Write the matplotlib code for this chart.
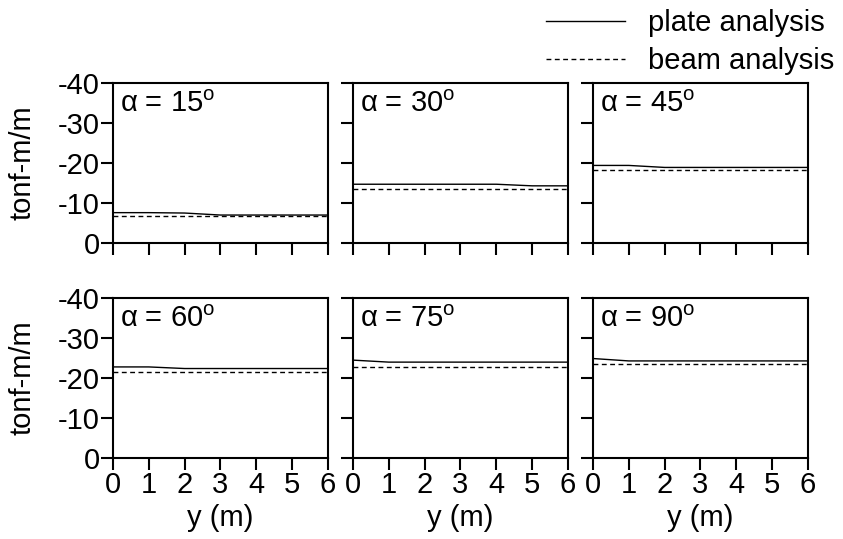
import numpy as np
import matplotlib
matplotlib.use('Agg')
import matplotlib.pyplot as plt

plt.rcParams['font.family'] = ['Liberation Sans', 'DejaVu Sans']
plt.rcParams['mathtext.fontset'] = 'custom'
plt.rcParams['mathtext.rm'] = 'Liberation Sans'
plt.rcParams['axes.unicode_minus'] = False

# data
y_pos = [0, 1, 2, 3, 4, 5, 6]
angles = [15, 30, 45, 60, 75, 90]
plate = [
    [-7.6, -7.6, -7.5, -7.0, -7.0, -7.0, -7.0],
    [-14.7, -14.7, -14.7, -14.7, -14.7, -14.3, -14.3],
    [-19.4, -19.4, -18.9, -18.9, -18.9, -18.9, -18.9],
    [-22.8, -22.8, -22.4, -22.4, -22.4, -22.4, -22.4],
    [-24.5, -24.0, -24.0, -24.0, -24.0, -24.0, -24.0],
    [-24.9, -24.3, -24.3, -24.3, -24.3, -24.3, -24.3],
]
beam = [
    [-6.8] * 7,
    [-13.4] * 7,
    [-18.3] * 7,
    [-21.6] * 7,
    [-22.8] * 7,
    [-23.6] * 7,
]

fs = 21
fig, axes = plt.subplots(2, 3, figsize=(8.43, 5.39), dpi=100)
fig.subplots_adjust(left=0.134, right=0.9585, top=0.846, bottom=0.150,
                    hspace=0.344, wspace=0.116)

for i, ax in enumerate(axes.flat):
    lp, = ax.plot(y_pos, plate[i], color='black', lw=1.0, label='plate analysis')
    lb, = ax.plot(y_pos, beam[i], color='black', lw=1.0, dashes=(3.5, 2.5),
                  label='beam analysis')
    ax.set_xlim(0, 6)
    ax.set_ylim(0, -40)
    ax.set_xticks(range(0, 7))
    ax.set_yticks([0, -10, -20, -30, -40])
    for s in ax.spines.values():
        s.set_linewidth(1.5)
    ax.tick_params(direction='out', length=8.5, width=1.5, labelsize=fs, pad=1)
    ax.text(0.035, 0.955, 'α = %d$^{\\mathrm{o}}$' % angles[i], transform=ax.transAxes,
            ha='left', va='top', fontsize=fs)
    row, col = divmod(i, 3)
    if col == 0:
        ax.set_ylabel('tonf-m/m', fontsize=fs)
        ax.yaxis.set_label_coords(-0.355, 0.5)
    else:
        ax.tick_params(labelleft=False)
    if row == 1:
        ax.set_xlabel('y (m)', fontsize=fs)
        ax.xaxis.set_label_coords(0.5, -0.285)
    else:
        ax.tick_params(labelbottom=False)

fig.legend(handles=[lp, lb], loc='upper right', bbox_to_anchor=(1.0, 1.0),
           frameon=False, fontsize=fs, handlelength=2.7, handletextpad=0.8,
           labelspacing=0.35, borderpad=0.1, borderaxespad=0.2)

fig.savefig('out.png', dpi=100)
